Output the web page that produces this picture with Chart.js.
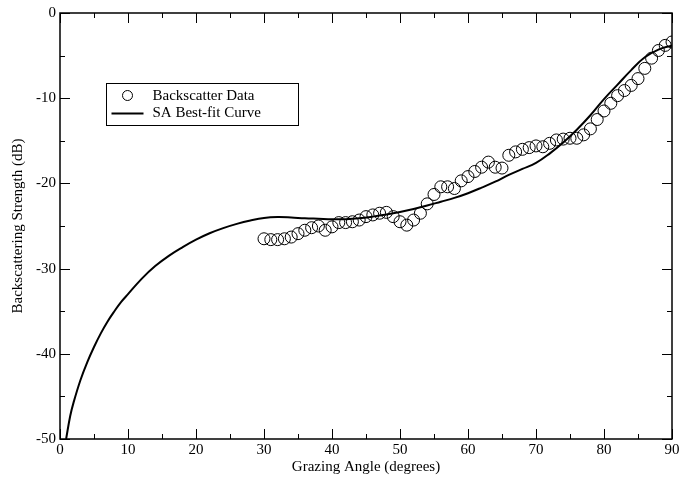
<!DOCTYPE html>
<html>
<head>
<meta charset="utf-8">
<script src="https://cdn.jsdelivr.net/npm/chart.js@4.4.1/dist/chart.umd.min.js"></script>
<style>
  html, body { margin: 0; padding: 0; background: #fff; }
  #wrap { width: 679px; height: 480px; position: relative; }
</style>
</head>
<body>
<div id="wrap"><canvas id="c" width="679" height="480"></canvas></div>
<script>
const dataAngles = [30,31,32,33,34,35,36,37,38,39,40,41,42,43,44,45,46,47,48,49,50,51,52,53,54,55,56,57,58,59,60,61,62,63,64,65,66,67,68,69,70,71,72,73,74,75,76,77,78,79,80,81,82,83,84,85,86,87,88,89,90];
const dataValues = [-26.5,-26.6,-26.6,-26.5,-26.3,-25.9,-25.5,-25.2,-25.0,-25.5,-25.1,-24.6,-24.6,-24.5,-24.3,-23.9,-23.7,-23.5,-23.4,-23.9,-24.5,-24.9,-24.3,-23.5,-22.4,-21.3,-20.4,-20.4,-20.6,-19.7,-19.2,-18.6,-18.1,-17.5,-18.1,-18.2,-16.7,-16.3,-16.0,-15.8,-15.6,-15.7,-15.3,-14.9,-14.8,-14.7,-14.7,-14.3,-13.6,-12.5,-11.5,-10.6,-9.7,-9.1,-8.5,-7.7,-6.5,-5.3,-4.4,-3.8,-3.4];

const curveAngles = [0.9,1.5,2,3,4,5,6,7,8,9,10,12,14,16,18,20,22,24,26,28,30,32,34,36,38,40,42,44,46,48,50,52,54,56,58,60,62,64,66,68,70,72,74,76,78,80,82,84,86,88,90];
const curveValues = [-50,-47.3,-45.7,-43.1,-41.0,-39.2,-37.6,-36.2,-35.0,-33.9,-33.0,-31.2,-29.7,-28.5,-27.5,-26.6,-25.85,-25.25,-24.75,-24.35,-24.05,-23.95,-24.0,-24.1,-24.15,-24.2,-24.2,-24.1,-23.9,-23.65,-23.35,-23.0,-22.6,-22.15,-21.7,-21.15,-20.5,-19.8,-19.0,-18.3,-17.6,-16.5,-15.2,-13.7,-12.0,-10.1,-8.4,-6.7,-5.2,-4.3,-3.8];

const xTicks = [0,10,20,30,40,50,60,70,80,90];
const yTicks = [0,-10,-20,-30,-40,-50];
const seriesNames = ['Backscatter Data','SA Best-fit Curve'];
const xTitle = 'Grazing Angle (degrees)';
const yTitle = 'Backscattering Strength (dB)';

const FONT = '"Liberation Serif", "Times New Roman", serif';

const framePlugin = {
  id: 'frame',
  afterDraw(chart) {
    const ctx = chart.ctx;
    const a = chart.chartArea;
    const xs = chart.scales.x, ys = chart.scales.y;
    ctx.save();
    ctx.strokeStyle = '#000';
    ctx.lineWidth = 1.5;
    ctx.strokeRect(a.left, a.top, a.right - a.left, a.bottom - a.top);
    ctx.lineWidth = 1;
    ctx.beginPath();
    for (let v = 0; v <= 90; v += 5) {
      const p = Math.round(xs.getPixelForValue(v)) + 0.5;
      const len = (v % 10 === 0) ? 10 : 5;
      ctx.moveTo(p, a.bottom); ctx.lineTo(p, a.bottom - len);
      ctx.moveTo(p, a.top); ctx.lineTo(p, a.top + len);
    }
    for (let v = -50; v <= 0; v += 5) {
      const p = Math.round(ys.getPixelForValue(v)) + 0.5;
      const len = (v % 10 === 0) ? 10 : 5;
      ctx.moveTo(a.left, p); ctx.lineTo(a.left + len, p);
      ctx.moveTo(a.right, p); ctx.lineTo(a.right - len, p);
    }
    ctx.stroke();

    // legend
    const lx = Math.round(xs.getPixelForValue(6.8)) + 0.5;
    const ly = Math.round(ys.getPixelForValue(-8.2)) + 0.5;
    const bw = 192, bh = 42;
    ctx.fillStyle = '#fff';
    ctx.fillRect(lx, ly, bw, bh);
    ctx.strokeRect(lx, ly, bw, bh);
    ctx.font = '15px ' + FONT;
    ctx.fillStyle = '#000';
    ctx.textBaseline = 'middle';
    ctx.textAlign = 'left';
    ctx.beginPath();
    ctx.arc(lx + 21, ly + 12, 5, 0, Math.PI * 2);
    ctx.stroke();
    ctx.fillText(seriesNames[0], lx + 46, ly + 13);
    ctx.lineWidth = 2;
    ctx.beginPath();
    ctx.moveTo(lx + 5, ly + 30); ctx.lineTo(lx + 37, ly + 30);
    ctx.stroke();
    ctx.fillText(seriesNames[1], lx + 46, ly + 30);
    ctx.restore();
  }
};

new Chart(document.getElementById('c'), {
  type: 'scatter',
  data: {
    datasets: [
      {
        label: seriesNames[0],
        data: dataAngles.map((x, i) => ({x, y: dataValues[i]})),
        showLine: false,
        pointStyle: 'circle',
        pointRadius: 6,
        pointBorderWidth: 1,
        pointBorderColor: '#000',
        pointBackgroundColor: 'rgba(0,0,0,0)',
        order: 1
      },
      {
        label: seriesNames[1],
        data: curveAngles.map((x, i) => ({x, y: curveValues[i]})),
        showLine: true,
        borderColor: '#000',
        borderWidth: 2,
        pointRadius: 0,
        tension: 0.4,
        fill: false,
        order: 2
      }
    ]
  },
  options: {
    responsive: false,
    animation: false,
    devicePixelRatio: 1,
    clip: 0,
    layout: { padding: { left: 9, right: 7, top: 13, bottom: 0 } },
    plugins: { legend: { display: false }, tooltip: { enabled: false } },
    scales: {
      x: {
        type: 'linear', min: 0, max: 90,
        afterBuildTicks: s => { s.ticks = xTicks.map(v => ({value: v})); },
        afterFit: s => { s.height = 41; s.paddingLeft = 0; s.paddingRight = 0; },
        grid: { display: false, drawTicks: false },
        border: { display: false },
        ticks: { color: '#000', font: { family: FONT, size: 15 }, padding: 2, maxRotation: 0 },
        title: { display: true, text: xTitle, color: '#000', font: { family: FONT, size: 15 }, padding: { top: 0, bottom: 4 } }
      },
      y: {
        type: 'linear', min: -50, max: 0,
        afterBuildTicks: s => { s.ticks = yTicks.map(v => ({value: v})); },
        afterFit: s => { s.width = 51; s.paddingTop = 0; s.paddingBottom = 0; },
        grid: { display: false, drawTicks: false },
        border: { display: false },
        ticks: { color: '#000', font: { family: FONT, size: 15 }, padding: 4 },
        title: { display: true, text: yTitle, color: '#000', font: { family: FONT, size: 15 }, padding: { top: 0, bottom: 2 } }
      }
    }
  },
  plugins: [framePlugin]
});
</script>
</body>
</html>
